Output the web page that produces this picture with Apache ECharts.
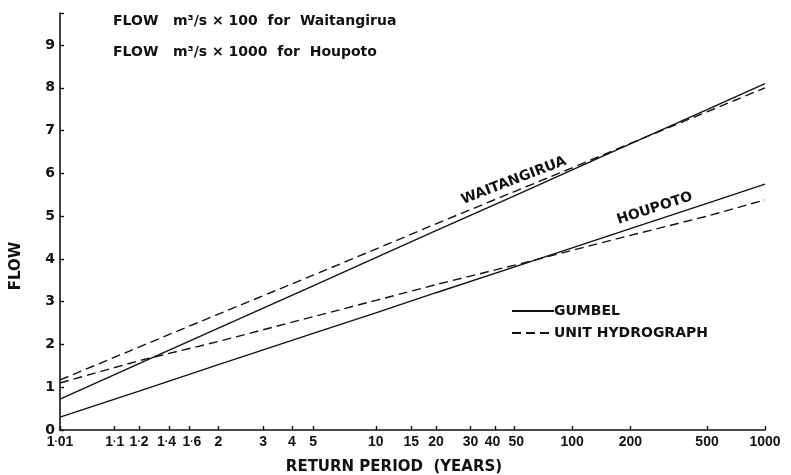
<!DOCTYPE html>
<html>
<head>
<meta charset="utf-8">
<script src="https://cdn.jsdelivr.net/npm/echarts@6/dist/echarts.min.js"></script>
<style>html,body{margin:0;padding:0;background:#fff}#c{width:791px;height:475px}</style>
</head>
<body>
<div id="c"></div>
<script>
// Return periods (years) at which values were read
const returnPeriods = [1.01, 1.2, 2, 5, 10, 20, 50, 100, 200, 500, 1000];
// Flow values
const waitangiruaGumbel = [0.72, 1.55, 2.38, 3.37, 4.03, 4.66, 5.47, 6.08, 6.69, 7.49, 8.10];
const waitangiruaUnitHydro = [1.17, 1.94, 2.71, 3.62, 4.23, 4.82, 5.57, 6.13, 6.70, 7.44, 8.00];
const houpotoGumbel = [0.30, 0.91, 1.53, 2.26, 2.74, 3.21, 3.81, 4.26, 4.71, 5.30, 5.75];
const houpotoUnitHydro = [1.10, 1.62, 2.07, 2.65, 3.03, 3.40, 3.85, 4.20, 4.55, 5.00, 5.38];
// X axis tick return periods and their labels
const tickPeriods = [1.01, 1.1, 1.2, 1.4, 1.6, 2, 3, 4, 5, 10, 15, 20, 30, 40, 50, 100, 200, 500, 1000];
const tickLabels = ['1·01', '1·1', '1·2', '1·4', '1·6', '2', '3', '4', '5', '10', '15', '20', '30', '40', '50', '100', '200', '500', '1000'];
// Curve labels anchored at (return period, flow)
const waitLabelAt = [50, 5.83];
const houLabelAt = [268, 5.18];

// Gumbel reduced variate (probability-paper scale)
const rv = T => -Math.log(-Math.log(1 - 1 / T));
const tickVals = tickPeriods.map(rv);
const toPairs = arr => returnPeriods.map((T, i) => [rv(T), arr[i]]);

const FONT = 'DejaVu Sans';
const black = '#111';
const chart = echarts.init(document.getElementById('c'));

function richLabel(s) {
  let body = s.split('').map(ch => ch === '·' ? '{d|·}' : '{n|' + ch + '}').join('');
  // small spacers keep crowded neighbouring labels apart
  if (s === '1·4' || s === '40') body = body + '{s| }';
  if (s === '1·6' || s === '50') body = '{s| }' + body;
  return body;
}

function lineSeries(name, data, dashed, label) {
  const s = {
    name: name,
    type: 'line',
    data: data,
    symbol: 'none',
    lineStyle: { color: black, width: 1.4, type: dashed ? [9, 5] : 'solid' },
    itemStyle: { color: black },
    z: 3
  };
  if (label) {
    s.markPoint = {
      symbol: 'circle', symbolSize: 0,
      data: [{ coord: [rv(label.at[0]), label.at[1]], value: label.text }],
      label: {
        show: true, formatter: label.text, rotate: label.rot,
        color: black, fontFamily: FONT, fontWeight: 'bold', fontSize: 14,
        position: 'inside'
      }
    };
  }
  return s;
}

chart.setOption({
  animation: false,
  backgroundColor: '#fff',
  grid: { left: 60, right: 26, top: 13, bottom: 45, containLabel: false },
  legend: {
    orient: 'vertical', left: 506, top: 299, itemGap: 8,
    itemWidth: 42, itemHeight: 14,
    itemStyle: { opacity: 0 },
    textStyle: { color: black, fontFamily: FONT, fontWeight: 'bold', fontSize: 14, padding: [0, 0, 0, -5] },
    data: ['GUMBEL', 'UNIT HYDROGRAPH']
  },
  graphic: [
    { type: 'text', left: 113, top: 14, style: { text: 'FLOW   m³/s × 100  for  Waitangirua', fill: black, font: 'bold 14px "DejaVu Sans"' } },
    { type: 'text', left: 113, top: 45, style: { text: 'FLOW   m³/s × 1000  for  Houpoto', fill: black, font: 'bold 14px "DejaVu Sans"' } },
    { type: 'text', x: 394, y: 467, style: { text: 'RETURN PERIOD  (YEARS)', fill: black, font: 'bold 15px "DejaVu Sans"', align: 'center', verticalAlign: 'middle' } },
    { type: 'text', x: 16, y: 266, rotation: Math.PI / 2, style: { text: 'FLOW', fill: black, font: 'bold 15px "DejaVu Sans"', align: 'center', verticalAlign: 'middle' } }
  ],
  xAxis: {
    type: 'value',
    min: rv(1.01), max: rv(1000),
    axisLine: { show: true, onZero: false, lineStyle: { color: black, width: 1.6 } },
    axisTick: { show: true, inside: true, length: 4, customValues: tickVals, lineStyle: { color: black, width: 1.4 } },
    axisLabel: {
      customValues: tickVals, margin: 5,
      formatter: function (v) {
        let best = 0, d = Infinity;
        tickVals.forEach((t, i) => { const dd = Math.abs(t - v); if (dd < d) { d = dd; best = i; } });
        return richLabel(tickLabels[best]);
      },
      rich: {
        n: { color: black, fontFamily: 'Liberation Sans', fontWeight: 'bold', fontSize: 14 },
        d: { color: black, fontFamily: 'Liberation Sans', fontWeight: 'bold', fontSize: 10 },
        s: { fontFamily: 'Liberation Sans', fontSize: 14, width: 5 }
      }
    },
    splitLine: { show: false }
  },
  yAxis: {
    type: 'value', min: 0, max: 9.75, interval: 1,
    axisLine: { show: true, onZero: false, lineStyle: { color: black, width: 1.6 } },
    axisTick: { show: true, inside: true, length: 4, lineStyle: { color: black, width: 1.4 } },
    axisLabel: {
      color: black, fontFamily: FONT, fontWeight: 'bold', fontSize: 14, margin: 5,
      formatter: v => (v > 9 ? '' : String(v))
    },
    splitLine: { show: false }
  },
  series: [
    lineSeries('GUMBEL', toPairs(waitangiruaGumbel), false),
    lineSeries('UNIT HYDROGRAPH', toPairs(waitangiruaUnitHydro), true, { at: waitLabelAt, text: 'WAITANGIRUA', rot: 21 }),
    lineSeries('GUMBEL', toPairs(houpotoGumbel), false),
    lineSeries('UNIT HYDROGRAPH', toPairs(houpotoUnitHydro), true, { at: houLabelAt, text: 'HOUPOTO', rot: 18 })
  ]
});
</script>
</body>
</html>
